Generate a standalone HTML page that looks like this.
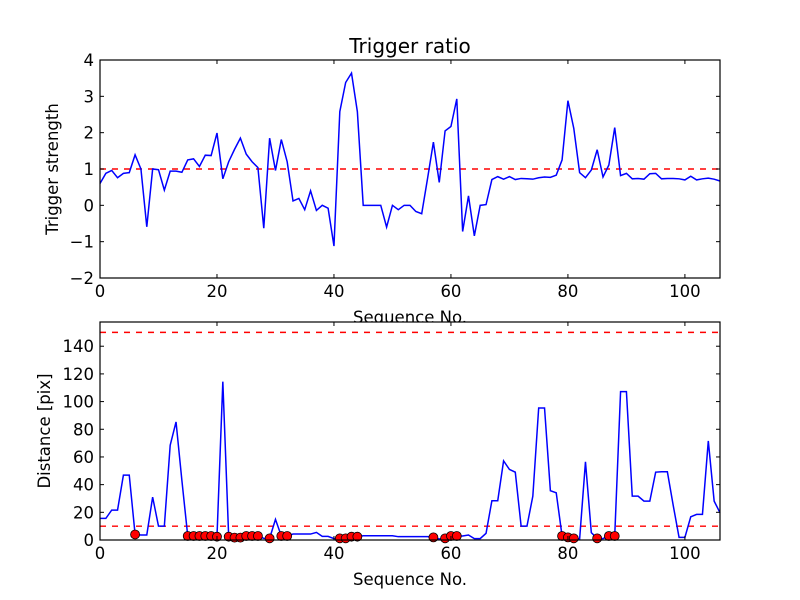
<!DOCTYPE html>
<html><head><meta charset="utf-8"><style>
html,body{margin:0;padding:0;background:#fff;}
svg{display:block;font-family:"DejaVu Sans","Liberation Sans",sans-serif;}
</style></head><body>
<svg id="fig" width="800" height="600" viewBox="0 0 800 600"></svg>
<script>
const strength = [0.6,0.88,0.96,0.76,0.88,0.9,1.39,1.0,-0.59,1.0,0.98,0.42,0.94,0.94,0.91,1.25,1.28,1.07,1.38,1.37,1.99,0.73,1.2,1.54,1.85,1.41,1.2,1.04,-0.63,1.85,0.96,1.81,1.2,0.12,0.19,-0.12,0.4,-0.14,0,-0.08,-1.12,2.58,3.38,3.64,2.58,0,0,0,0,-0.6,0,-0.12,0,0,-0.17,-0.23,0.74,1.74,0.63,2.05,2.17,2.93,-0.72,0.26,-0.84,0,0.02,0.71,0.79,0.72,0.79,0.71,0.74,0.73,0.72,0.76,0.78,0.77,0.83,1.25,2.88,2.12,0.9,0.76,0.97,1.53,0.78,1.11,2.14,0.82,0.88,0.73,0.74,0.72,0.87,0.88,0.73,0.74,0.74,0.73,0.7,0.8,0.7,0.73,0.75,0.72,0.67];
const distance = [15.6,15.6,21.6,21.6,46.9,46.9,4,3.6,3.6,31,10,10,68.5,85.3,43,2.9,2.9,2.9,2.9,2.9,2.4,114.4,2.4,1.7,1.7,2.9,2.9,2.9,1.2,1.2,14.9,2.9,2.9,4.3,4.3,4.3,4.3,5.5,2.6,2.6,1,1.2,1.2,2.4,2.4,3.1,3.1,3.1,3.1,3.1,3.1,2.4,2.4,2.4,2.4,2.4,2.4,1.9,0.7,1.2,2.9,2.9,2.9,3.6,1,1,4.8,28.4,28.4,57.2,51,49,10,10,31.7,95.4,95.4,35.6,34.1,2.9,1.9,1.2,0.7,56.5,5.3,1.2,1,2.9,2.9,107.2,107.2,31.7,31.7,28.1,28.1,49,49.3,49.3,25,1.9,1.9,16.8,18.5,18.5,71.6,28.1,19.7];
const flagged = [6,15,16,17,18,19,20,22,23,24,25,26,27,29,31,32,41,42,43,44,57,59,60,61,79,80,81,85,87,88];
const xTicks = [0,20,40,60,80,100];
const topYTicks = [-2,-1,0,1,2,3,4];
const botYTicks = [0,20,40,60,80,100,120,140];
const topThresh = [1];
const botThresh = [10,150];

const NS="http://www.w3.org/2000/svg";
const svg=document.getElementById('fig');
function mk(tag,attrs,parent){const e=document.createElementNS(NS,tag);for(const k in attrs)e.setAttribute(k,attrs[k]);(parent||svg).appendChild(e);return e;}
const L=100,R=720,XMAX=106;
const xs=v=>L+(R-L)*v/XMAX;
const FS=16.5;

function panel(name,top,bot,ymin,ymax,data,thresh){
  const g=mk('g',{});
  
  
  const ys=v=>bot-(bot-top)*(v-ymin)/(ymax-ymin);
  mk('rect',{x:L,y:top,width:R-L,height:bot-top,fill:'#fff'},g);
  thresh.forEach(t=>{
    const l=mk('line',{x1:L,x2:R,y1:ys(t),y2:ys(t),stroke:'#ff0000','stroke-width':1.4,'stroke-dasharray':'6,6'},g);
    
    
  });
  const pts=data.map((v,i)=>xs(i).toFixed(2)+','+ys(v).toFixed(2)).join(' ');
  const pl=mk('polyline',{points:pts,fill:'none',stroke:'#0000ff','stroke-width':1.5,'stroke-linejoin':'miter'},g);
  
  
  return {g,ys};
}
function axes(g,top,bot,ys,yticks,title,ylabel,xlabelY){
  mk('rect',{x:L,y:top,width:R-L,height:bot-top,fill:'none',stroke:'#000','stroke-width':1.2},g);
  xTicks.forEach(t=>{
    const x=xs(t);
    mk('line',{x1:x,x2:x,y1:bot,y2:bot-4,stroke:'#000'},g);
    mk('line',{x1:x,x2:x,y1:top,y2:top+4,stroke:'#000'},g);
    const tx=mk('text',{x:x,y:bot+19,'text-anchor':'middle','font-size':FS},g);
    tx.textContent=t;
    
    
  });
  yticks.forEach(t=>{
    const y=ys(t);
    mk('line',{x1:L,x2:L+4,y1:y,y2:y,stroke:'#000'},g);
    mk('line',{x1:R,x2:R-4,y1:y,y2:y,stroke:'#000'},g);
    const tx=mk('text',{x:L-6,y:y+6,'text-anchor':'end','font-size':FS},g);
    tx.textContent=t<0?'\u2212'+(-t):t;
    
    
  });
  const xl=mk('text',{x:(L+R)/2,y:xlabelY,'text-anchor':'middle','font-size':FS},g);
  xl.textContent='Sequence No.';
  
  
  const yl=mk('text',{x:0,y:0,'text-anchor':'middle','font-size':FS,transform:`translate(${ylabel[1]},${(top+bot)/2}) rotate(-90)`},g);
  yl.textContent=ylabel[0];
  
  
  if(title){
    const tt=mk('text',{x:(L+R)/2,y:top-7,'text-anchor':'middle','font-size':20},g);
    tt.textContent=title;
    
    
  }
}
const p1=panel('trigger-strength-panel',60,278,-2,4,strength,topThresh);
axes(p1.g,60,278,p1.ys,topYTicks,'Trigger ratio',['Trigger strength',58],323);
const p2=panel('distance-panel',322,540,0,157.5,distance,botThresh);
flagged.forEach(i=>{
  const c=mk('circle',{cx:xs(i),cy:p2.ys(distance[i]),r:4.5,fill:'#ff0000',stroke:'#000','stroke-width':0.8},p2.g);
  
  
});
axes(p2.g,322,540,p2.ys,botYTicks,null,['Distance [pix]',50],585);
</script>
</body></html>
